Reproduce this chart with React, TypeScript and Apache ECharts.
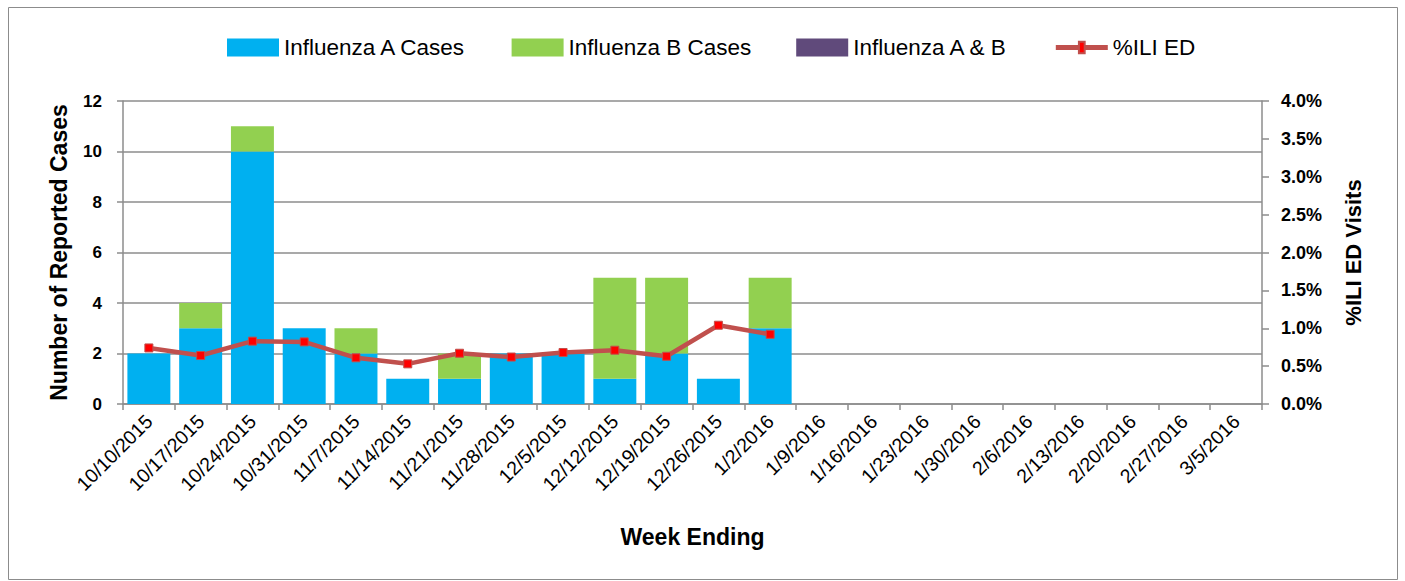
import React, { useEffect, useRef } from "react";
import * as echarts from "echarts";

const weeks = [
  "10/10/2015", "10/17/2015", "10/24/2015", "10/31/2015", "11/7/2015", "11/14/2015",
  "11/21/2015", "11/28/2015", "12/5/2015", "12/12/2015", "12/19/2015", "12/26/2015",
  "1/2/2016", "1/9/2016", "1/16/2016", "1/23/2016", "1/30/2016", "2/6/2016",
  "2/13/2016", "2/20/2016", "2/27/2016", "3/5/2016",
];
const fluA = [2, 3, 10, 3, 2, 1, 1, 2, 2, 1, 2, 1, 3];
const fluB = [0, 1, 1, 0, 1, 0, 1, 0, 0, 4, 3, 0, 2];
const fluAB: number[] = [];
const iliED = [0.74, 0.64, 0.83, 0.82, 0.61, 0.53, 0.67, 0.62, 0.68, 0.71, 0.63, 1.04, 0.92];

const FONT = "'Liberation Sans', Arial, sans-serif";
// narrow marker used for the legend icon (bounding box kept square by the extra moveTo points)
const LEGEND_MARKER = "path://M0,0M12,12M3.6,1.2H8.4V10.8H3.6Z";

export default function App() {
  const ref = useRef<HTMLDivElement>(null);
  useEffect(() => {
    if (!ref.current) return;
    const chart = echarts.init(ref.current, null, { renderer: "svg" });
    chart.setOption({
      animation: false,
      textStyle: { fontFamily: FONT, color: "#000" },
      graphic: [
        {
          type: "rect",
          shape: { x: 8.5, y: 7.5, width: 1389, height: 572 },
          style: { fill: "none", stroke: "#8c8c8c", lineWidth: 1 },
          silent: true,
        },
      ],
      legend: {
        top: 31,
        left: 222,
        itemWidth: 52,
        itemHeight: 18,
        itemGap: 45,
        textStyle: { fontSize: 22.5, fontFamily: FONT, color: "#000" },
        data: [
          { name: "Influenza A Cases", icon: "rect" },
          { name: "Influenza B Cases", icon: "rect" },
          { name: "Influenza A & B", icon: "rect" },
          { name: "%ILI ED", lineStyle: { width: 5, color: "#C0504D" } },
        ],
      },
      grid: { left: 123, right: 143, top: 101, bottom: 177 },
      xAxis: {
        type: "category",
        data: weeks,
        name: "Week Ending",
        nameLocation: "middle",
        nameGap: 121,
        nameTextStyle: { fontSize: 23, fontWeight: "bold", fontFamily: FONT, color: "#000" },
        axisLine: { lineStyle: { color: "#8c8c8c", width: 1.5 } },
        axisTick: { show: true, alignWithLabel: false, length: 6, lineStyle: { color: "#8c8c8c", width: 1.5 } },
        axisLabel: { rotate: 45, fontSize: 19.5, color: "#000", interval: 0, margin: 14 },
      },
      yAxis: [
        {
          type: "value",
          min: 0,
          max: 12,
          interval: 2,
          name: "Number of Reported Cases",
          nameLocation: "middle",
          nameRotate: 90,
          nameGap: 53,
          nameTextStyle: { fontSize: 23, fontWeight: "bold", fontFamily: FONT, color: "#000" },
          axisLine: { show: true, lineStyle: { color: "#8c8c8c", width: 1.5 } },
          axisTick: { show: true, length: 6, lineStyle: { color: "#8c8c8c", width: 1.5 } },
          axisLabel: { fontSize: 17, fontWeight: "bold", color: "#000", margin: 21 },
          splitLine: { show: true, lineStyle: { color: "#8c8c8c", width: 1.5 } },
        },
        {
          type: "value",
          min: 0,
          max: 4,
          interval: 0.5,
          position: "right",
          name: "%ILI ED Visits",
          nameLocation: "middle",
          nameRotate: 90,
          nameGap: 80,
          nameTextStyle: { fontSize: 22, fontWeight: "bold", fontFamily: FONT, color: "#000" },
          axisLine: { show: true, lineStyle: { color: "#8c8c8c", width: 1.5 } },
          axisTick: { show: true, length: 7, lineStyle: { color: "#8c8c8c", width: 1.5 } },
          axisLabel: {
            fontSize: 18,
            fontWeight: "bold",
            color: "#000",
            margin: 19,
            formatter: (v: number) => v.toFixed(1) + "%",
          },
          splitLine: { show: false },
        },
      ],
      series: [
        {
          name: "Influenza A Cases",
          type: "bar",
          stack: "flu",
          data: fluA,
          barCategoryGap: "17%",
          itemStyle: { color: "#00B0F0" },
        },
        {
          name: "Influenza B Cases",
          type: "bar",
          stack: "flu",
          data: fluB,
          itemStyle: { color: "#92D050" },
        },
        {
          name: "Influenza A & B",
          type: "bar",
          stack: "flu",
          data: fluAB,
          itemStyle: { color: "#604A7B" },
        },
        {
          name: "%ILI ED",
          type: "line",
          yAxisIndex: 1,
          data: iliED.map((v) => ({ value: v, symbol: "rect", symbolSize: 8 })),
          symbol: LEGEND_MARKER,
          symbolSize: 8,
          lineStyle: { color: "#C0504D", width: 4.5 },
          itemStyle: { color: "#FF0000", borderColor: "#C0504D", borderWidth: 1 },
          z: 5,
        },
      ],
    });
    return () => chart.dispose();
  }, []);
  return (
    <div
      ref={ref}
      style={{ position: "fixed", left: 0, top: 0, width: 1405, height: 581, background: "#fff" }}
    />
  );
}
